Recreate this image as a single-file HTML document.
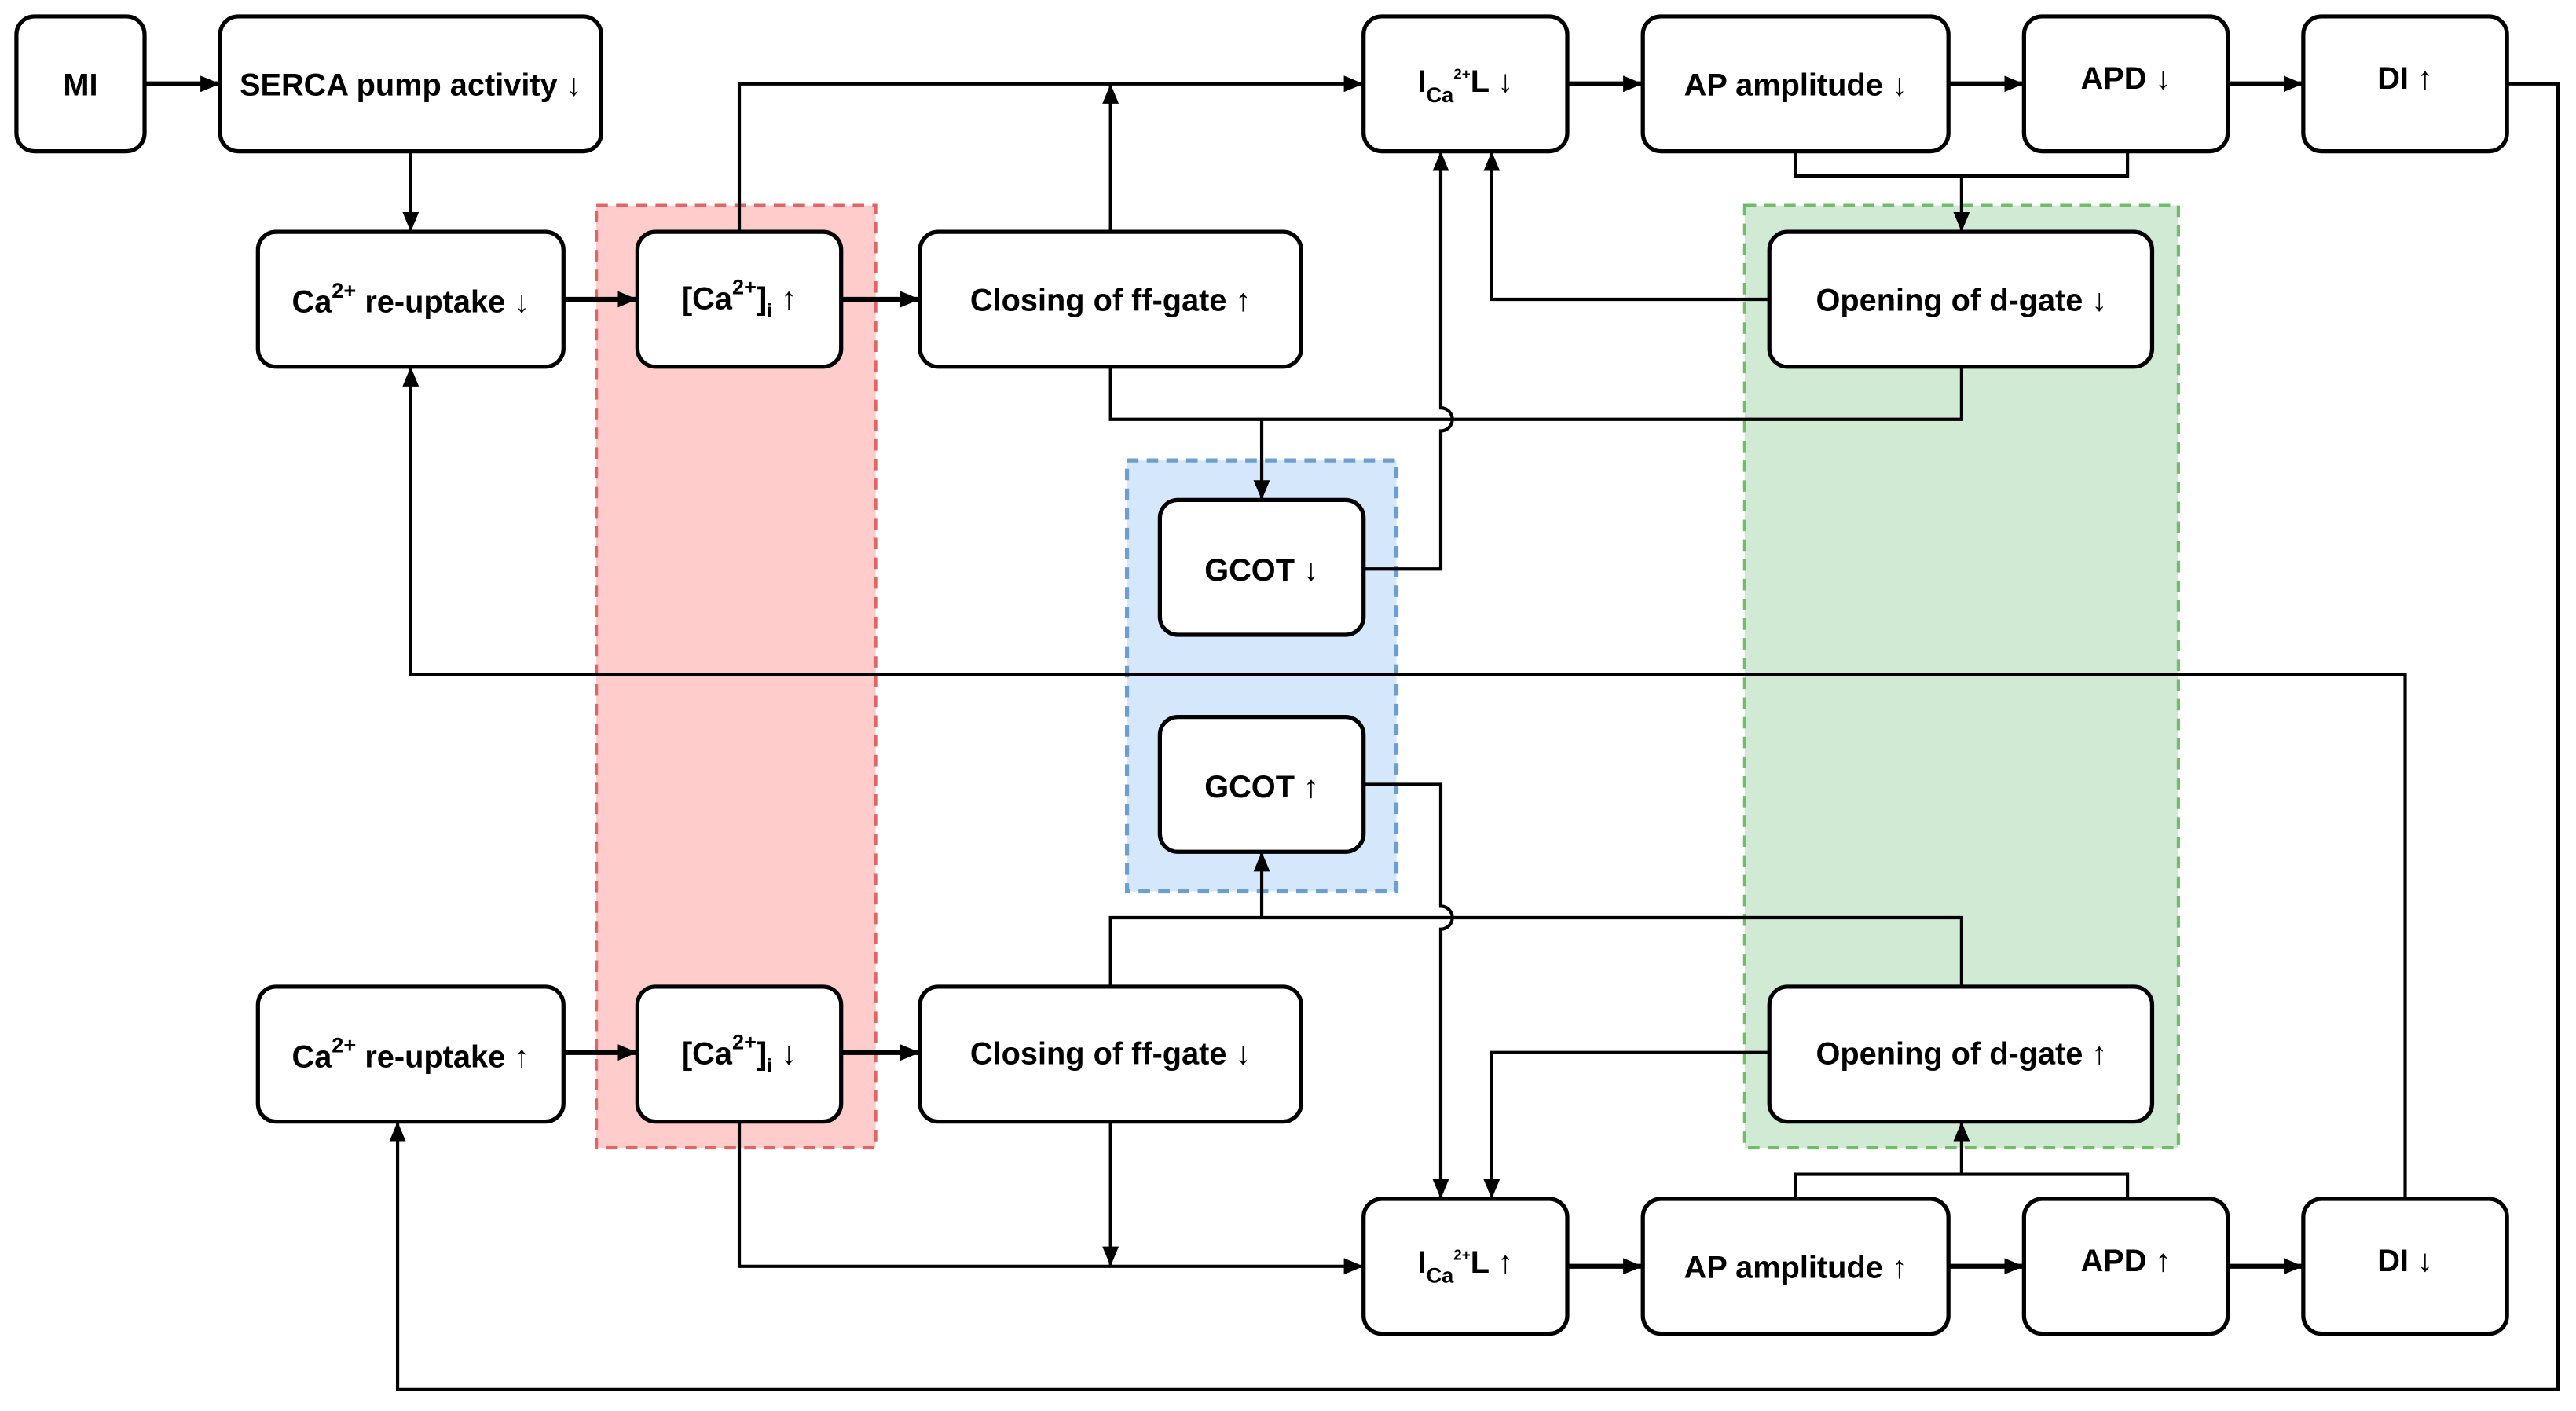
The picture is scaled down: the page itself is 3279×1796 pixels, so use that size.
<!DOCTYPE html>
<html><head><meta charset="utf-8"><style>
html,body{margin:0;padding:0;background:#fff;}
svg{display:block;}
text{font-family:"Liberation Sans",sans-serif;font-weight:bold;font-size:19px;fill:#000;}
</style></head><body>
<svg width="3279" height="1796" viewBox="0 0 1568 858" preserveAspectRatio="none" xmlns="http://www.w3.org/2000/svg">
<defs>
<marker id="a" viewBox="0 0 12 10" refX="12" refY="5" markerWidth="12" markerHeight="10" markerUnits="userSpaceOnUse" orient="auto"><path d="M0,0 L12,5 L0,10 z" fill="#000"/></marker>
</defs>
<!-- regions -->
<rect x="363" y="125" width="170" height="573" fill="#ffcccc" stroke="#e06666" stroke-width="2" stroke-dasharray="7,5"/>
<rect x="686" y="280" width="164" height="262" fill="#d4e7fb" stroke="#6c9fd0" stroke-width="2.5" stroke-dasharray="7,5"/>
<rect x="1062" y="125" width="264" height="573" fill="#d0ead4" stroke="#72bb6a" stroke-width="2" stroke-dasharray="7,5"/>

<g fill="none" stroke="#000" stroke-width="2">
<!-- top row -->
<path d="M88,51 H134" stroke-width="3" marker-end="url(#a)"/>
<path d="M250,92 V141" marker-end="url(#a)"/>
<path d="M343,182 H388" stroke-width="3" marker-end="url(#a)"/>
<path d="M512,182 H560" stroke-width="3" marker-end="url(#a)"/>
<path d="M450,141 V51 H830" marker-end="url(#a)"/>
<path d="M676,141 V51" marker-end="url(#a)"/>
<path d="M954,51 H1000" stroke-width="3" marker-end="url(#a)"/>
<path d="M1186,51 H1232" stroke-width="3" marker-end="url(#a)"/>
<path d="M1356,51 H1402" stroke-width="3" marker-end="url(#a)"/>
<path d="M1093,92 V107 H1295 V92"/>
<path d="M1194,107 V141" marker-end="url(#a)"/>
<path d="M1077,182 H908 V92" marker-end="url(#a)"/>
<path d="M676,223 V255 H1194 V223"/>
<path d="M768,255 V304" marker-end="url(#a)"/>
<path d="M830,346 H877 V262 A7,7 0 0 0 877,248 V92" marker-end="url(#a)"/>
<!-- long loops -->
<path d="M1526,51 H1557 V845 H242 V682" marker-end="url(#a)"/>
<path d="M1464,729 V410 H250 V223" marker-end="url(#a)"/>
<!-- bottom -->
<path d="M830,477 H877 V551 A7,7 0 0 1 877,565 V729" marker-end="url(#a)"/>
<path d="M676,600 V558 H1194 V600"/>
<path d="M768,558 V518" marker-end="url(#a)"/>
<path d="M1077,640 H908 V729" marker-end="url(#a)"/>
<path d="M343,640 H388" stroke-width="3" marker-end="url(#a)"/>
<path d="M512,640 H560" stroke-width="3" marker-end="url(#a)"/>
<path d="M676,682 V770" marker-end="url(#a)"/>
<path d="M450,682 V770 H830" marker-end="url(#a)"/>
<path d="M954,770 H1000" stroke-width="3" marker-end="url(#a)"/>
<path d="M1186,770 H1232" stroke-width="3" marker-end="url(#a)"/>
<path d="M1356,770 H1402" stroke-width="3" marker-end="url(#a)"/>
<path d="M1093,729 V714 H1295 V729"/>
<path d="M1194,714 V682" marker-end="url(#a)"/>
</g>

<g fill="#fff" stroke="#000" stroke-width="2.5">
<rect x="10" y="10" width="78" height="82" rx="11"/>
<rect x="134" y="10" width="232" height="82" rx="11"/>
<rect x="830" y="10" width="124" height="82" rx="11"/>
<rect x="1000" y="10" width="186" height="82" rx="11"/>
<rect x="1232" y="10" width="124" height="82" rx="11"/>
<rect x="1402" y="10" width="124" height="82" rx="11"/>
<rect x="157" y="141" width="186" height="82" rx="11"/>
<rect x="388" y="141" width="124" height="82" rx="11"/>
<rect x="560" y="141" width="232" height="82" rx="11"/>
<rect x="1077" y="141" width="233" height="82" rx="11"/>
<rect x="706" y="304" width="124" height="82" rx="11"/>
<rect x="706" y="436" width="124" height="82" rx="11"/>
<rect x="157" y="600" width="186" height="82" rx="11"/>
<rect x="388" y="600" width="124" height="82" rx="11"/>
<rect x="560" y="600" width="232" height="82" rx="11"/>
<rect x="1077" y="600" width="233" height="82" rx="11"/>
<rect x="830" y="729" width="124" height="82" rx="11"/>
<rect x="1000" y="729" width="186" height="82" rx="11"/>
<rect x="1232" y="729" width="124" height="82" rx="11"/>
<rect x="1402" y="729" width="124" height="82" rx="11"/>
</g>

<g text-anchor="middle">
<text x="49" y="58">MI</text>
<text x="250" y="58">SERCA pump activity ↓</text>
<text x="892" y="56">I<tspan font-size="13" dy="6">Ca</tspan><tspan font-size="9" dy="-14">2+</tspan><tspan dy="8">L ↓</tspan></text>
<text x="1093" y="58">AP amplitude  ↓</text>
<text x="1294" y="54">APD ↓</text>
<text x="1464" y="54">DI ↑</text>
<text x="250" y="190">Ca<tspan font-size="13" dy="-9">2+</tspan><tspan dy="9"> re-uptake ↓</tspan></text>
<text x="450" y="188">[Ca<tspan font-size="13" dy="-9">2+</tspan><tspan dy="9">]</tspan><tspan font-size="12" dy="5">i</tspan><tspan dy="-5"> ↑</tspan></text>
<text x="676" y="189">Closing of ff-gate ↑</text>
<text x="1194" y="189">Opening of d-gate ↓</text>
<text x="768" y="353">GCOT ↓</text>
<text x="768" y="485">GCOT ↑</text>
<text x="250" y="649">Ca<tspan font-size="13" dy="-9">2+</tspan><tspan dy="9"> re-uptake ↑</tspan></text>
<text x="450" y="647">[Ca<tspan font-size="13" dy="-9">2+</tspan><tspan dy="9">]</tspan><tspan font-size="12" dy="5">i</tspan><tspan dy="-5"> ↓</tspan></text>
<text x="676" y="647">Closing of ff-gate ↓</text>
<text x="1194" y="647">Opening of d-gate ↑</text>
<text x="892" y="774">I<tspan font-size="13" dy="6">Ca</tspan><tspan font-size="9" dy="-14">2+</tspan><tspan dy="8">L ↑</tspan></text>
<text x="1093" y="777">AP amplitude  ↑</text>
<text x="1294" y="773">APD ↑</text>
<text x="1464" y="773">DI ↓</text>
</g>
</svg>
</body></html>
